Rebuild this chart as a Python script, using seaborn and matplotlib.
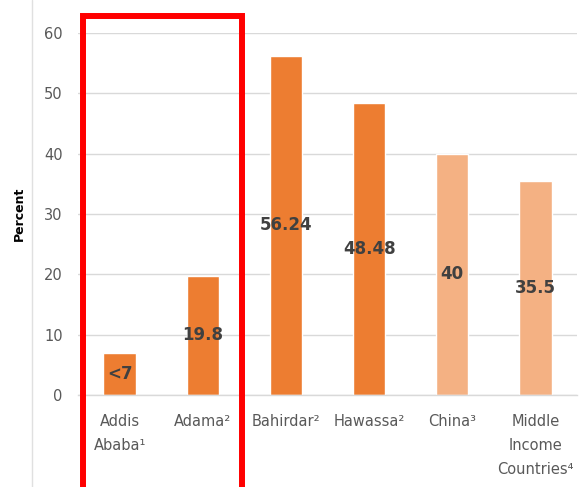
import matplotlib
matplotlib.use("Agg")
import matplotlib.pyplot as plt
import matplotlib.patches as mpatches
from matplotlib.lines import Line2D
import seaborn as sns
import pandas as pd

categories = ["Addis\nAbaba\u00b9", "Adama\u00b2", "Bahirdar\u00b2", "Hawassa\u00b2", "China\u00b3", "Middle\nIncome\nCountries\u2074"]
values = [7, 19.8, 56.24, 48.48, 40, 35.5]
value_labels = ["<7", "19.8", "56.24", "48.48", "40", "35.5"]
colors = ["#ED7D31", "#ED7D31", "#ED7D31", "#ED7D31", "#F4B183", "#F4B183"]
yticks = [0, 10, 20, 30, 40, 50, 60]

sns.set_theme(style="white")
plt.rcParams['font.family'] = ['DejaVu Sans']

df = pd.DataFrame({"cat": categories, "val": values})

fig = plt.figure(figsize=(5.84, 4.87), dpi=100)
ax = fig.add_axes([78/584, 1 - 395/487, (577-78)/584, (395-33)/487])
sns.barplot(data=df, x="cat", y="val", hue="cat", palette=colors, legend=False,
            width=0.39, ax=ax, saturation=1)

for cont, lab in zip(ax.containers, value_labels):
    ax.bar_label(cont, labels=[lab], label_type="center", fontsize=12,
                 fontweight="bold", color="#404040")

ax.set_ylim(0, 60)
ax.set_xlim(-0.5, 5.5)
ax.set_yticks(yticks)
ax.yaxis.grid(True, color="#D9D9D9", linewidth=1)
ax.set_axisbelow(True)
for s in ["top", "right", "left"]:
    ax.spines[s].set_visible(False)
ax.spines["bottom"].set_color("#D9D9D9")
ax.spines["bottom"].set_linewidth(1)
ax.tick_params(axis="both", length=0, colors="#595959", labelsize=10.5)
ax.tick_params(axis="y", pad=11)
ax.tick_params(axis="x", pad=14)
for t in ax.get_xticklabels():
    t.set_linespacing(1.75)
ax.set_xlabel("")
ax.set_ylabel("Percent", fontsize=9, fontweight="bold", color="black", labelpad=13)

# faint left border line of the original image frame
fig.add_artist(Line2D([32/584, 32/584], [0, 1], transform=fig.transFigure,
                      color="#E0E0E0", linewidth=1))

# red highlight box
rect = mpatches.Rectangle((83/584, -0.05), (241.5-83)/584, (1 - 16/487) + 0.05,
                          transform=fig.transFigure, fill=False,
                          edgecolor="#FF0000", linewidth=4.3, clip_on=False)
fig.add_artist(rect)

fig.savefig("out.png", dpi=100)
